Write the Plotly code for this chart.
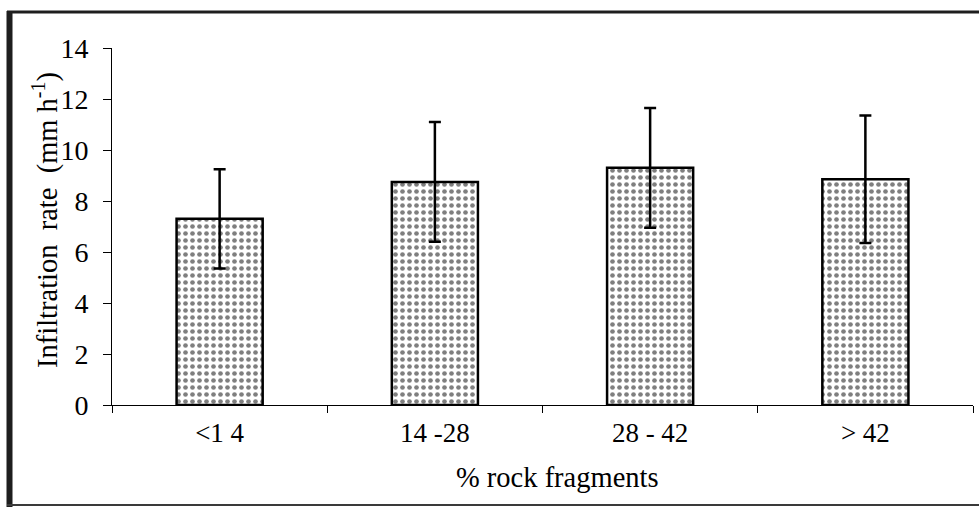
import plotly.graph_objects as go

categories = ["<1 4", "14 -28", "28 - 42", "> 42"]
infiltration = [7.3, 8.75, 9.3, 8.85]
error = [1.95, 2.35, 2.35, 2.5]
y_ticks = [0, 2, 4, 6, 8, 10, 12, 14]
x_title = "% rock fragments"
y_title = "Infiltration\u00a0\u00a0rate\u00a0\u00a0(mm\u00a0h<sup>-1</sup>)"

W, H = 979, 507
L, R, T, B = 112, 6, 48, 102
pw, ph = W - L - R, H - T - B

def px_x(px):
    return (px - L) / pw

def px_y(py):
    return (H - B - py) / ph

FONT = "'Liberation Serif', 'Times New Roman', Times, serif"

fig = go.Figure(go.Bar(
    x=categories,
    y=infiltration,
    width=0.4,
    marker=dict(
        color="white",
        line=dict(color="black", width=2.5),
        pattern=dict(shape=".", fgcolor="black", bgcolor="white",
                     size=7, solidity=0.35, fillmode="overlay"),
    ),
    error_y=dict(type="data", array=error, visible=True,
                 color="black", thickness=2.5, width=6),
))

frame = "#1e1e1e"
fig.update_layout(
    width=W, height=H,
    margin=dict(l=L, r=R, t=T, b=B, pad=0),
    paper_bgcolor="white", plot_bgcolor="white",
    showlegend=False,
    font=dict(family=FONT, color="black", size=28),
    xaxis=dict(
        type="category", tickson="boundaries",
        showline=True, linecolor="black", linewidth=1,
        ticks="outside", ticklen=7, tickwidth=1, tickcolor="black",
        showgrid=False, zeroline=False,
        tickfont=dict(family=FONT, size=27),
        ticklabelstandoff=4,
        automargin=False,
    ),
    yaxis=dict(
        range=[0, 14], tickvals=y_ticks,
        showline=True, linecolor="black", linewidth=1,
        ticks="outside", ticklen=8, tickwidth=1, tickcolor="black",
        showgrid=False, zeroline=False,
        tickfont=dict(family=FONT, size=28),
        ticklabelstandoff=9,
        automargin=False,
    ),
    annotations=[
        dict(text=x_title, xref="paper", yref="paper",
             x=px_x(557), y=px_y(477), xanchor="center", yanchor="middle",
             showarrow=False, font=dict(family=FONT, size=28.5)),
        dict(text=y_title, xref="paper", yref="paper", textangle=-90,
             x=px_x(46), y=px_y(220), xanchor="center", yanchor="middle",
             showarrow=False, font=dict(family=FONT, size=28.5)),
    ],
    shapes=[
        dict(type="line", xref="paper", yref="paper",
             x0=px_x(9.5), x1=px_x(9.5), y0=px_y(11), y1=px_y(507),
             line=dict(color=frame, width=6), layer="above"),
        dict(type="line", xref="paper", yref="paper",
             x0=px_x(7), x1=px_x(979), y0=px_y(12), y1=px_y(12),
             line=dict(color=frame, width=3), layer="above"),
        dict(type="line", xref="paper", yref="paper",
             x0=px_x(7), x1=px_x(979), y0=px_y(505), y1=px_y(505),
             line=dict(color="#3a3a3a", width=2), layer="above"),
    ],
)

fig.write_html("out.html")
